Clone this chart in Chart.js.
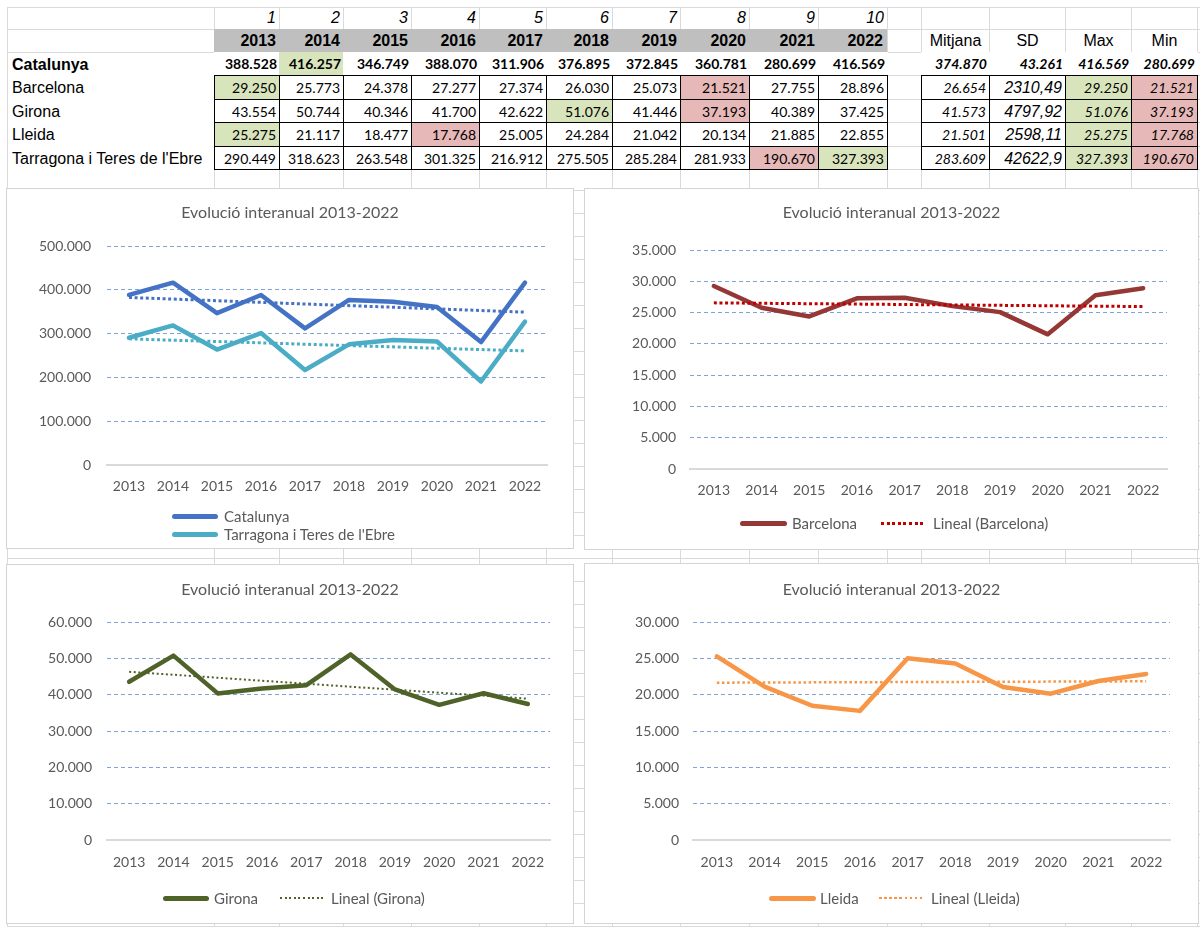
<!DOCTYPE html>
<html><head><meta charset="utf-8">
<script src="https://cdn.jsdelivr.net/npm/chart.js@4.4.1/dist/chart.umd.min.js"></script>
<style>
html,body{margin:0;padding:0;background:#fff}
body{width:1200px;height:927px;position:relative;overflow:hidden;font-family:'Liberation Sans',Arial,sans-serif}
.gl{position:absolute;background:#dadada}
.cell{position:absolute;box-sizing:border-box;white-space:nowrap;overflow:visible;color:#000}
.box{position:absolute;border:1px solid #d4d4d4;background:#fff}
.box canvas{position:absolute;left:0;top:0}
.lg{position:absolute;font-family:Lato,sans-serif;font-size:15px;color:#595959;white-space:nowrap;line-height:18px}
.sw{position:absolute}
</style></head><body>
<div id="sheet"></div>
<div id="table"></div>
<div id="charts"></div>
<script>
// ---------- DATA ----------
const colNumbers = ['1','2','3','4','5','6','7','8','9','10'];
const years = ['2013','2014','2015','2016','2017','2018','2019','2020','2021','2022'];
const regions = ['Catalunya','Barcelona','Girona','Lleida',"Tarragona i Teres de l'Ebre"];
const catalunya = [388528,416257,346749,388070,311906,376895,372845,360781,280699,416569];
const barcelona = [29250,25773,24378,27277,27374,26030,25073,21521,27755,28896];
const girona    = [43554,50744,40346,41700,42622,51076,41446,37193,40389,37425];
const lleida    = [25275,21117,18477,17768,25005,24284,21042,20134,21885,22855];
const tarragona = [290449,318623,263548,301325,216912,275505,285284,281933,190670,327393];
const statHeaders = ['Mitjana','SD','Max','Min'];
const mitjana = [374870,26654,41573,21501,283609];
const sdLabels = ['43.261','2310,49','4797,92','2598,11','42622,9'];
const maxValues = [416569,29250,51076,25275,327393];
const minValues = [280699,21521,37193,17768,190670];
const greenCells = [1,0,5,0,9];   // year index highlighted green per region
const pinkCells  = [-1,7,7,3,8];  // year index highlighted pink per region
// trend lines (start 2013, end 2022)
const trendCatalunya = [382500,349000];
const trendTarragona = [288000,260500];
const trendBarcelona = [26550,25960];
const trendGirona    = [46300,38900];
const trendLleida    = [21650,21840];
const chartTitle = 'Evolució interanual 2013-2022';

// ---------- helpers ----------
const fmt = v => String(Math.round(v)).replace(/\B(?=(\d{3})+(?!\d))/g,'.');
const GREEN='#d8e4bc', PINK='#e6b8b7';
const colEdges=[7,214,279,343,411,479,546,612,680,749,818,887,921,989,1065,1131,1197];
const rowEdges=[7,29,52,75,99,122,146,169,190];

// sheet gridlines
const sheet=document.getElementById('sheet');
function gl(x,y,w,h){const d=document.createElement('div');d.className='gl';Object.assign(d.style,{left:x+'px',top:y+'px',width:w+'px',height:h+'px'});sheet.appendChild(d);}
const hLines=rowEdges.slice();
for(let y=213;y<927;y+=23)hLines.push(y);
hLines.forEach(y=>gl(7,y,1193,1));
colEdges.forEach(x=>gl(x,7,1,920));

// table cells
const tbl=document.getElementById('table');
function cell(c1,c2,r,text,st){
  const d=document.createElement('div');d.className='cell';
  const x1=colEdges[c1],x2=colEdges[c2],y1=rowEdges[r],y2=rowEdges[r+1];
  Object.assign(d.style,{left:x1+'px',top:y1+'px',width:(x2-x1+1)+'px',height:(y2-y1+1)+'px',lineHeight:(y2-y1)+'px'});
  Object.assign(d.style,st||{});
  d.textContent=text;tbl.appendChild(d);return d;
}
const ARIAL="'Liberation Sans',Arial,sans-serif", NUM="Lato,sans-serif";
colNumbers.forEach((t,j)=>cell(j+1,j+2,0,t,{fontFamily:ARIAL,fontStyle:'italic',fontSize:'16px',textAlign:'right',paddingRight:'4px'}));
years.forEach((t,j)=>cell(j+1,j+2,1,t,{fontFamily:ARIAL,fontWeight:'bold',fontSize:'16px',textAlign:'right',paddingRight:'4px',background:'#bfbfbf',width:(colEdges[j+2]-colEdges[j+1]+(j<9?1:0))+'px',height:'23px'}));
statHeaders.forEach((t,k)=>cell(12+k,13+k,1,t,{fontFamily:ARIAL,fontSize:'16px',textAlign:'center'}));
const seriesByRegion=[catalunya,barcelona,girona,lleida,tarragona];
regions.forEach((name,r)=>{
  const row=r+2, bold=r===0, bordered=r>0;
  cell(0,1,row,name,{fontFamily:ARIAL,fontSize:'16px',fontWeight:bold?'bold':'normal',paddingLeft:'4px',background:'#fff',width:(colEdges[1]-colEdges[0])+'px',left:(colEdges[0]+1)+'px',height:(rowEdges[row+1]-rowEdges[row])+'px',top:(rowEdges[row]+1)+'px'});
  seriesByRegion[r].forEach((v,j)=>{
    let bg='#fff'; if(greenCells[r]===j)bg=GREEN; if(pinkCells[r]===j)bg=PINK;
    cell(j+1,j+2,row,fmt(v),{fontFamily:NUM,fontSize:'14px',fontWeight:bold?'bold':'normal',textAlign:'right',paddingRight:'3px',background:bg,border:bordered?'1px solid #000':'none'});
  });
  const st=[fmt(mitjana[r]),sdLabels[r],fmt(maxValues[r]),fmt(minValues[r])];
  st.forEach((t,k)=>{
    const isSD=k===1&&r>0;
    cell(12+k,13+k,row,t,{fontFamily:isSD?ARIAL:NUM,fontSize:isSD?'16px':'14px',fontStyle:'italic',fontWeight:bold?'bold':'normal',textAlign:'right',paddingRight:'3px',background:(r>0&&k===2)?GREEN:(r>0&&k===3)?PINK:'#fff',border:bordered?'1px solid #000':'none'});
  });
});

// ---------- charts ----------
const charts=document.getElementById('charts');
function trendData(t){return years.map((_,i)=>i===0?t[0]:(i===years.length-1?t[1]:null));}
function solid(label,data,color){return {label,data,borderColor:color,backgroundColor:color,borderWidth:4.5,pointRadius:0,tension:0,borderCapStyle:'round',borderJoinStyle:'round',order:1};}
function trend(label,data,color,w,dash){return {label,data:trendData(data),borderColor:color,backgroundColor:color,borderWidth:w,borderDash:dash,pointRadius:0,spanGaps:true,borderCapStyle:'butt',order:0,isTrend:true};}

function makeChart(cfg){
  const b=cfg.box,p=cfg.plot;
  const wrap=document.createElement('div');wrap.className='box';
  Object.assign(wrap.style,{left:(b.x-1)+'px',top:(b.y-1)+'px',width:b.w+'px',height:b.h+'px'});
  const cv=document.createElement('canvas');cv.width=b.w;cv.height=b.h;cv.style.width=b.w+'px';cv.style.height=b.h+'px';
  wrap.appendChild(cv);charts.appendChild(wrap);
  const leftW=p.l-b.x, topRel=p.t-b.y, rightPad=(b.x+b.w)-p.r, bottomH=(b.y+b.h)-p.b;
  const pt=cfg.titleY-b.y-9.6, pb=topRel-pt-19.2;
  const ch=new Chart(cv,{type:'line',data:{labels:years,datasets:cfg.datasets},options:{
    responsive:false,animation:false,devicePixelRatio:1,
    layout:{padding:0},
    plugins:{legend:{display:false},tooltip:{enabled:false},
      title:{display:true,text:chartTitle,color:'#595959',font:{family:'Lato',size:16,weight:'normal',lineHeight:1.2},padding:{top:pt,bottom:pb}}},
    scales:{
      x:{offset:true,grid:{display:false,drawTicks:false},border:{display:true,color:'#d9d9d9',width:2},
         ticks:{color:'#595959',font:{family:'Lato',size:14},padding:cfg.xPad,maxRotation:0,autoSkip:false},
         afterFit(s){s.height=bottomH;}},
      y:{min:0,max:cfg.yMax,grid:{drawTicks:false,lineWidth:1,color:c=>(c.tick&&c.tick.value===0)?'rgba(0,0,0,0)':'#7fa3dc'},
         border:{display:false,dash:[4,3]},
         ticks:{stepSize:cfg.yStep,color:'#595959',font:{family:'Lato',size:14},padding:p.l-cfg.labelRight,callback:v=>fmt(v)},
         afterFit(s){s.width=leftW;}},
      yRight:{type:'linear',position:'right',min:0,max:1,grid:{display:false,drawTicks:false},border:{display:false},
         ticks:{display:false},afterFit(s){s.width=rightPad;}}
    }}});
  cfg.legend.forEach(it=>{
    const ds=ch.data.datasets[it.ds];
    const sw=document.createElement('div');sw.className='sw';
    if(ds.isTrend){
      const dash=ds.borderDash;
      Object.assign(sw.style,{left:it.x1+'px',top:(it.y-ds.borderWidth/2)+'px',width:(it.x2-it.x1)+'px',height:ds.borderWidth+'px',
        background:`repeating-linear-gradient(90deg, ${ds.borderColor} 0 ${dash[0]}px, transparent ${dash[0]}px ${dash[0]+dash[1]}px)`});
    }else{
      Object.assign(sw.style,{left:it.x1+'px',top:(it.y-2.5)+'px',width:(it.x2-it.x1)+'px',height:'5px',background:ds.borderColor,borderRadius:'3px'});
    }
    charts.appendChild(sw);
    const tx=document.createElement('div');tx.className='lg';tx.textContent=ds.label;
    Object.assign(tx.style,{left:it.tx+'px',top:(it.y-9.5)+'px'});charts.appendChild(tx);
  });
  return ch;
}

makeChart({box:{x:7,y:189,w:566,h:359},plot:{l:107,t:246,r:547,b:465},titleY:213,yMax:500000,yStep:100000,labelRight:91,xPad:12.6,
  datasets:[solid('Catalunya',catalunya,'#4472c4'),solid("Tarragona i Teres de l'Ebre",tarragona,'#4bacc6'),
            trend('Lineal (Catalunya)',trendCatalunya,'#4472c4',3,[3,2.6]),trend("Lineal (Tarragona i Teres de l'Ebre)",trendTarragona,'#4bacc6',3,[3,2.6])],
  legend:[{ds:0,x1:172,x2:218,y:516,tx:224},{ds:1,x1:172,x2:218,y:534,tx:224}]});
makeChart({box:{x:585,y:189,w:613,h:360},plot:{l:690,t:250,r:1167,b:469},titleY:213,yMax:35000,yStep:5000,labelRight:676,xPad:12.6,
  datasets:[solid('Barcelona',barcelona,'#953735'),trend('Lineal (Barcelona)',trendBarcelona,'#c00000',3,[3,2.6])],
  legend:[{ds:0,x1:740,x2:787,y:523,tx:792},{ds:1,x1:881,x2:926,y:523,tx:933}]});
makeChart({box:{x:7,y:565,w:566,h:358},plot:{l:107,t:622,r:550,b:840},titleY:590,yMax:60000,yStep:10000,labelRight:92,xPad:13.6,
  datasets:[solid('Girona',girona,'#4f6228'),trend('Lineal (Girona)',trendGirona,'#4f6228',2,[2,2.6])],
  legend:[{ds:0,x1:163,x2:209,y:898,tx:214},{ds:1,x1:280,x2:325,y:898,tx:331}]});
makeChart({box:{x:585,y:564,w:613,h:359},plot:{l:693,t:622,r:1170,b:840},titleY:590,yMax:30000,yStep:5000,labelRight:679,xPad:13.6,
  datasets:[solid('Lleida',lleida,'#f79646'),trend('Lineal (Lleida)',trendLleida,'#f79646',2.5,[2.5,2.6])],
  legend:[{ds:0,x1:769,x2:816,y:898,tx:820},{ds:1,x1:879,x2:924,y:898,tx:931}]});
</script>
</body></html>
